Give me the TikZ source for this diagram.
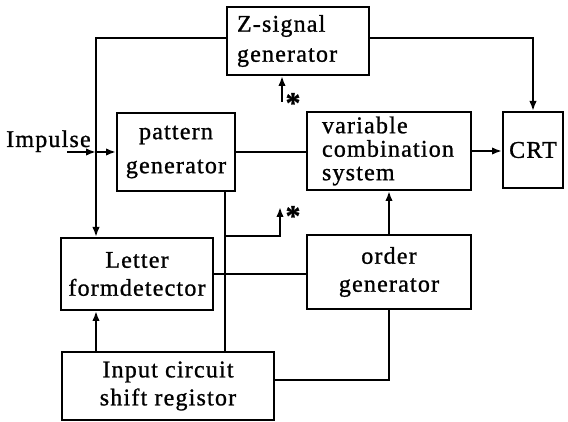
\documentclass[tikz,border=0pt]{standalone}
\usepackage{fontspec}
\setmainfont{Liberation Serif}[LetterSpace=5, FakeBold=1]
\usetikzlibrary{arrows.meta}
\begin{document}
\begin{tikzpicture}[x=1pt,y=-1pt,
  blk/.style={draw, line width=2pt, rectangle, inner sep=0pt, align=center,
              font=\fontsize{24}{28}\selectfont},
  wire/.style={line width=2pt},
  arr/.style={wire, -{Latex[length=10pt,width=7.5pt]}},
  star/.style={font=\fontsize{30}{30}\bfseries\selectfont, inner sep=0pt}
]
\useasboundingbox (0,0) rectangle (568,422);

% blocks
\node[blk, minimum width=142pt, minimum height=68pt, text width=122pt, align=left,
      font=\fontsize{24}{30}\selectfont] (z) at (298,41) {Z-signal\\generator};
\node[blk, minimum width=118pt, minimum height=78pt,
      font=\fontsize{24}{34}\selectfont] (pg) at (176,152) {pattern\\generator};
\node[blk, minimum width=164pt, minimum height=78pt, text width=134pt, align=left,
      font=\fontsize{24}{23.5}\selectfont] (vcs) at (389,151) {variable\\combination\\system};
\node[blk, minimum width=60pt, minimum height=76pt] (crt) at (533,150) {CRT};
\node[blk, minimum width=152pt, minimum height=72pt] (lf) at (137,274) {Letter\\formdetector};
\node[blk, minimum width=164pt, minimum height=74pt] (og) at (389,272) {order\\generator};
\node[blk, minimum width=212pt, minimum height=68pt] (ic) at (168,386) {Input circuit\\shift registor};
\node[font=\fontsize{24}{28}\selectfont, anchor=base west, inner sep=0pt] (imp) at (6,147) {Impulse};

% asterisks
\node[star] (s1) at (293,103) {*};
\node[star] (s2) at (293,216) {*};

% routing helpers
\coordinate (colL) at (96,0);
\coordinate (colM) at (225,0);
\coordinate (impin) at (67,152);
\coordinate (zin) at (282,102);
\coordinate (brk) at (280,207);
\coordinate (brow) at (0,236);

% connectors
\draw[arr] ([yshift=3pt]z.west) -| (colL |- lf.north);
\draw[arr] (impin |- pg.west) -- (colL |- pg.west);
\draw[arr] (colL |- pg.west) -- (pg.west);
\draw[wire] (pg.east) -- (pg.east -| vcs.west);
\draw[arr] (vcs.east) -- (vcs.east -| crt.west);
\draw[arr] ([yshift=3pt]z.east) -| (crt.north);
\draw[arr] (zin) -- (zin |- z.south);
\draw[wire] (colM |- pg.south) -- (colM |- ic.north);
\draw[arr] (colM |- brow) -| (brk);
\draw[wire] (lf.east) -- (lf.east -| og.west);
\draw[arr] (og.north) -- (vcs.south);
\draw[wire] ([yshift=6pt]ic.east) -| (og.south);
\draw[arr] (colL |- ic.north) -- (colL |- lf.south);
\end{tikzpicture}
\end{document}
